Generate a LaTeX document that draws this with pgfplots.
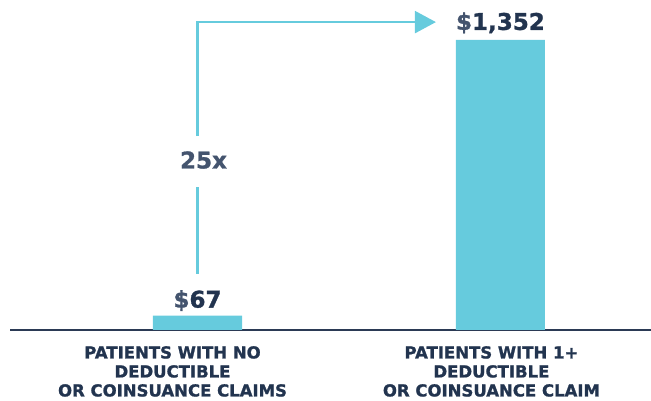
\documentclass[border=0pt]{standalone}
\usepackage{pgfplots}
\pgfplotsset{compat=1.18}
\usepackage{fontspec}
\setmainfont{DejaVu Sans}[BoldFont={DejaVu Sans Bold}, BoldFeatures={FakeBold=1.2}]
\usetikzlibrary{arrows.meta}
\definecolor{barblue}{HTML}{66CBDD}
\definecolor{navy}{HTML}{22344F}
\definecolor{slate}{HTML}{44546E}
\definecolor{axisnavy}{HTML}{2B3A55}
\begin{document}
\begin{tikzpicture}
\begin{axis}[
  at={(10pt,71pt)}, anchor=south west,
  scale only axis, width=641pt, height=330pt,
  xmin=-0.619, xmax=1.497, ymin=0, ymax=1538,
  axis x line*=bottom, hide y axis,
  x axis line style={line width=2.6pt, color=axisnavy},
  xtick=\empty, ytick=\empty,
  clip=false,
]
\addplot[ybar, bar width=0.294, fill=barblue, draw=none] coordinates {(0,67) (1,1352)};
% arrow annotation
\draw[barblue, line width=2.3pt] (axis cs:0,261) -- (axis cs:0,666);
\draw[barblue, line width=2.3pt, -{Triangle[length=21pt,width=22pt]}] (axis cs:0,904) -- (axis cs:0,1435) -- (axis cs:0.787,1435);
\node[font=\fontsize{23}{26}\selectfont\bfseries, text=slate, xshift=6pt] at (axis cs:0,792) {25x};
% value labels
\node[font=\fontsize{23}{26}\selectfont\bfseries, text=navy, anchor=base, yshift=10pt, inner sep=0pt] at (axis cs:1,1352) {\textcolor{slate}{\$}1,352};
\node[font=\fontsize{23}{26}\selectfont\bfseries, text=navy, anchor=base, yshift=8pt, inner sep=0pt] at (axis cs:0,67) {\textcolor{slate}{\$}67};
% category labels
\node[font=\fontsize{16.5}{19}\selectfont\bfseries, text=navy, align=center, anchor=north, inner sep=0pt, yshift=-16pt, xshift=-25pt] at (axis cs:0,0) {PATIENTS WITH NO\\DEDUCTIBLE\\OR COINSUANCE CLAIMS};
\node[font=\fontsize{16.5}{19}\selectfont\bfseries, text=navy, align=center, anchor=north, inner sep=0pt, yshift=-16pt, xshift=-9pt] at (axis cs:1,0) {PATIENTS WITH 1+\\DEDUCTIBLE\\OR COINSUANCE CLAIM};
\end{axis}
\pgfresetboundingbox
\path (0,0) rectangle (651pt,401pt);
\end{tikzpicture}
\end{document}
